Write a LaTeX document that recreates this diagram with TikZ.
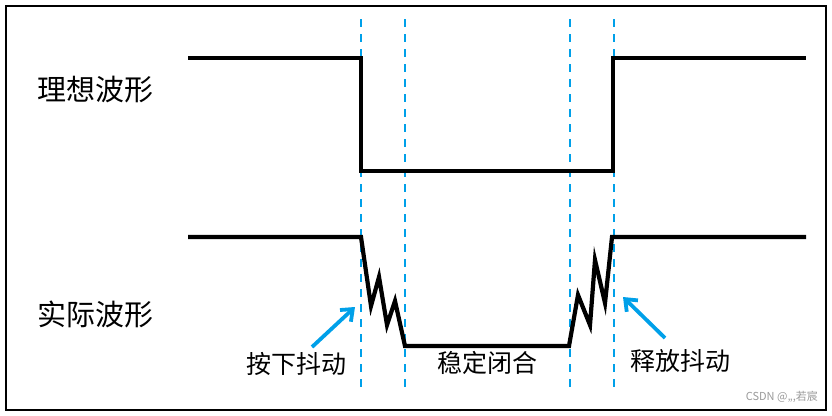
\documentclass[tikz,border=0pt]{standalone}
\usepackage{fontspec}
\setmainfont{Noto Sans CJK SC}
\usetikzlibrary{arrows.meta,positioning}

\definecolor{markblue}{RGB}{0,160,233}

\tikzset{
  wave/.style={line width=4.2pt,line join=miter},
  guide/.style={markblue,line width=2.8pt,dash pattern=on 8pt off 7pt},
  hint/.style={markblue,line width=3.8pt,-{Straight Barb[length=10pt,width=16pt]}},
  bigtext/.style={font=\fontsize{29}{34}\selectfont,inner sep=0pt},
  smalltext/.style={font=\fontsize{25}{30}\selectfont,inner sep=0pt}
}

\begin{document}
\begin{tikzpicture}[x=1pt,y=-1pt]
  \useasboundingbox (0,0) rectangle (832,415);
  \draw[line width=2pt] (6,6) rectangle (826,410);

  % guide lines
  \foreach \gx in {361,405,570,614}
    \draw[guide] (\gx,19) -- (\gx,388);

  % ideal waveform
  \coordinate (i0) at (188,58);
  \coordinate (i1) at (361,58);
  \coordinate (i2) at (361,171);
  \coordinate (i3) at (613,171);
  \coordinate (i4) at (613,58);
  \coordinate (i5) at (806,58);
  \draw[wave] (i0) -- (i1) -- (i2) -- (i3) -- (i4) -- (i5);

  % real waveform with bounces
  \coordinate (r0) at (188,237);
  \coordinate (r1) at (361,237);
  \coordinate (r2) at (405,346);
  \coordinate (r3) at (569,346);
  \coordinate (r4) at (612,237);
  \coordinate (r5) at (806,237);
  \draw[wave] (r0) -- (r1) -- (371,306) -- (379,277) -- (387,325) -- (395,301) -- (r2)
    -- (r3) -- (578,295) -- (590,325) -- (595,260) -- (605,303) -- (r4) -- (r5);

  % labels
  \node[bigtext] (ideal) at (95,90) {理想波形};
  \node[bigtext] (real) at (95,314) {实际波形};
  \node[smalltext] (press) at (296,364) {按下抖动};
  \node[smalltext] (stable) at (487,363) {稳定闭合};
  \node[smalltext] (release) at (680,361) {释放抖动};

  \coordinate (pt) at (355,307);
  \coordinate (pf) at (312,347);
  \coordinate (rt) at (623,297);
  \coordinate (rf) at (665,338);
  \draw[hint] (pf) -- (pt);
  \draw[hint] (rf) -- (rt);

  \node[font=\fontsize{11}{13}\selectfont,text=black!40,anchor=east,inner sep=0pt]
    (mark) at (818,397) {CSDN @,,,若宸};
\end{tikzpicture}
\end{document}
